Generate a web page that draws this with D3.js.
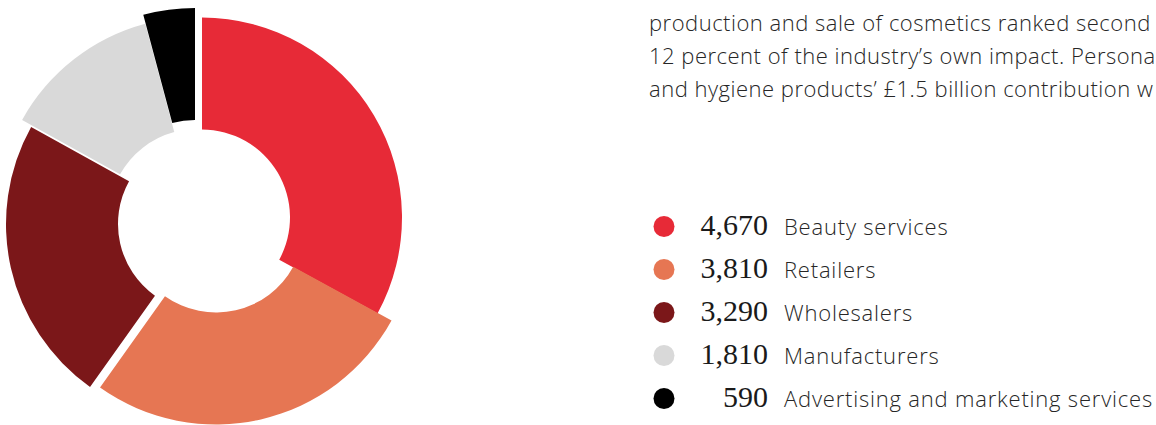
<!DOCTYPE html>
<html>
<head>
<meta charset="utf-8">
<script src="https://cdn.jsdelivr.net/npm/d3@7/dist/d3.min.js"></script>
<style>
  html, body { margin: 0; padding: 0; background: #fff; }
  svg { display: block; }
</style>
</head>
<body>
<svg id="chart" width="1156" height="425"></svg>
<script>
// Employment by segment of the beauty value chain
const categories = ["Beauty services", "Retailers", "Wholesalers", "Manufacturers", "Advertising and marketing services"];
const values = [4670, 3810, 3290, 1810, 590];
const valueLabels = ["4,670", "3,810", "3,290", "1,810", "590"];
const colors = ["#e72a37", "#e67653", "#7b1719", "#d9d9d9", "#000000"];

const introLines = [
  "production and sale of cosmetics ranked second",
  "12 percent of the industry\u2019s own impact. Persona",
  "and hygiene products\u2019 \u00a31.5 billion contribution w"
];

// Layout
const W = 1156, H = 425;
const center = { x: 202, y: 217.5 };
const innerR = 88, outerR = 200;
// each segment is nudged away from the centre by its own offset
const sliceShift = [[0, 0], [14, 7], [4, 6.5], [-5, -0.5], [-7, -9.5]];

const svg = d3.select("#chart");

const pie = d3.pie().sort(null).value(d => d.value);
const arc = d3.arc().innerRadius(innerR).outerRadius(outerR);

const rows = categories.map((c, i) => ({ name: c, value: values[i], label: valueLabels[i], color: colors[i], i }));

svg.append("g")
  .selectAll("path")
  .data(pie(rows))
  .join("path")
  .attr("transform", d => `translate(${center.x + sliceShift[d.index][0]},${center.y + sliceShift[d.index][1]})`)
  .attr("d", arc)
  .attr("fill", d => d.data.color);

// Intro paragraph (continues beyond the right edge)
const sans = "'Open Sans', 'Noto Sans', sans-serif";
svg.append("g")
  .selectAll("text")
  .data(introLines)
  .join("text")
  .attr("x", 649)
  .attr("y", (d, i) => 31 + i * 32.8)
  .attr("font-family", sans)
  .attr("font-size", 22)
  .attr("font-weight", 300)
  .attr("letter-spacing", 0.5)
  .attr("fill", "#262626")
  .text(d => d);

// Legend
const legendY = d3.scalePoint().domain(d3.range(rows.length)).range([226.5, 398.5]);
const legend = svg.append("g")
  .selectAll("g")
  .data(rows)
  .join("g")
  .attr("transform", d => `translate(0,${legendY(d.i)})`);

legend.append("circle")
  .attr("cx", 664)
  .attr("cy", 0)
  .attr("r", 10.5)
  .attr("fill", d => d.color);

legend.append("text")
  .attr("x", 768)
  .attr("y", 8.5)
  .attr("text-anchor", "end")
  .attr("font-family", "'Liberation Serif', 'DejaVu Serif', serif")
  .attr("font-size", 30)
  .attr("fill", "#1a1a1a")
  .text(d => d.label);

legend.append("text")
  .attr("x", 784)
  .attr("y", 8.5)
  .attr("font-family", sans)
  .attr("font-size", 22)
  .attr("font-weight", 300)
  .attr("letter-spacing", 0.8)
  .attr("fill", "#262626")
  .text(d => d.name);
</script>
</body>
</html>
